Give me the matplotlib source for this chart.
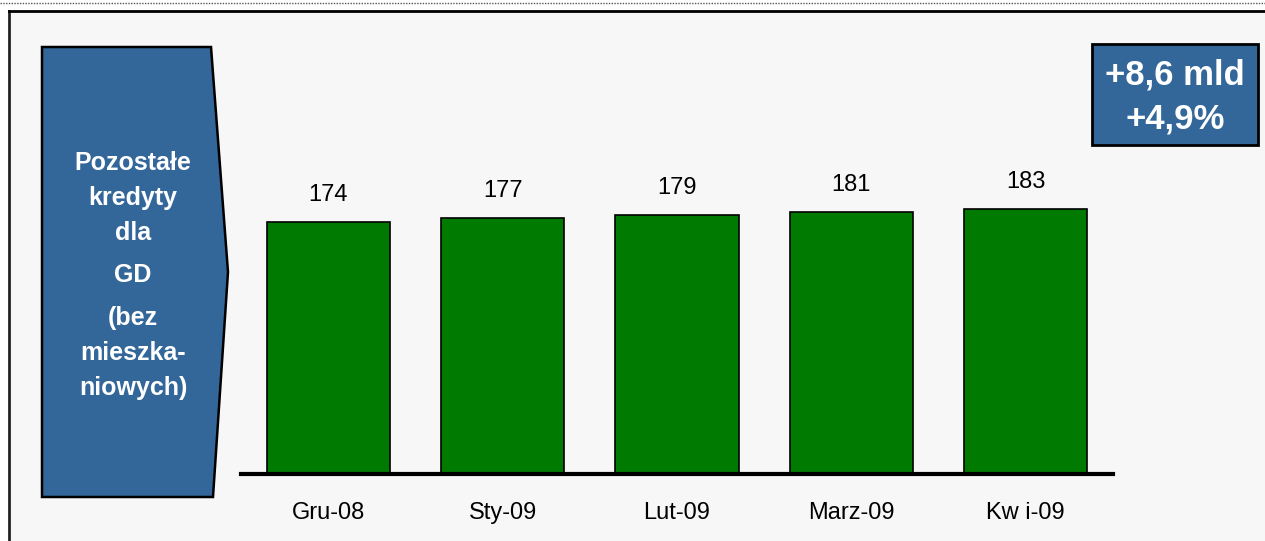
import matplotlib.pyplot as plt
from matplotlib.patches import Polygon, Rectangle
from matplotlib.lines import Line2D

plt.rcParams['font.family'] = ['Liberation Sans', 'DejaVu Sans']

months = ['Gru-08', 'Sty-09', 'Lut-09', 'Marz-09', 'Kw i-09']
values = [174, 177, 179, 181, 183]
side_lines = ['Pozostałe', 'kredyty', 'dla', 'GD', '(bez', 'mieszka-', 'niowych)']
change_lines = ['+8,6 mld', '+4,9%']

W, H = 1265, 541
fig = plt.figure(figsize=(W / 100, H / 100), dpi=100)
fig.patch.set_facecolor('white')


def fx(x):
    return x / W


def fy(y):
    return 1 - y / H


# panel background and frame
fig.add_artist(Rectangle((fx(9), 0), 1 - fx(9), fy(11), transform=fig.transFigure,
                         facecolor='#f7f7f7', edgecolor='none', zorder=0))
fig.add_artist(Line2D([fx(9), fx(9)], [0, fy(11)], color='#222222', lw=2))
fig.add_artist(Line2D([fx(9), 1], [fy(11), fy(11)], color='black', lw=2))
fig.add_artist(Line2D([0, 1], [fy(3), fy(3)], color='#555555', lw=1, ls=(0, (1, 1))))

# left arrow-shaped label
arrow = Polygon([(fx(42), fy(47)), (fx(211), fy(47)), (fx(228), fy(272)),
                 (fx(213), fy(497)), (fx(42), fy(497))], closed=True,
                transform=fig.transFigure, facecolor='#336699',
                edgecolor='black', lw=1.8, zorder=2)
fig.add_artist(arrow)
side_baselines = [170, 205, 240, 282, 325, 360, 395]
for line, yb in zip(side_lines, side_baselines):
    fig.text(fx(133), fy(yb), line, ha='center', va='baseline', color='white',
             fontsize=18, fontweight='bold', zorder=3)

# change box
fig.add_artist(Rectangle((fx(1092), fy(145)), fx(166), fy(44) - fy(145),
                         transform=fig.transFigure, facecolor='#336699',
                         edgecolor='black', lw=2, zorder=2))
for line, yb in zip(change_lines, [85, 128]):
    fig.text(fx(1175), fy(yb), line, ha='center', va='baseline', color='white',
             fontsize=25, fontweight='bold', zorder=3)

# bar chart
ax = fig.add_axes([fx(241), fy(474), fx(1113) - fx(241), fy(11) - fy(474)])
ax.set_facecolor('none')
x = range(len(values))
ax.bar(x, values, width=0.707, color='#007a00', edgecolor='black', lw=1.2, zorder=2)
for i, v in zip(x, values):
    ax.annotate(str(v), (i, v), xytext=(0, 15), textcoords='offset points',
                ha='center', va='baseline', fontsize=17)
ax.set_xlim(-0.5, 4.5)
ax.set_ylim(0, 320)
ax.set_xticks(list(x))
ax.set_xticklabels(months, fontsize=17)
ax.tick_params(axis='x', length=0, pad=20)
ax.set_yticks([])
for s in ['top', 'right', 'left']:
    ax.spines[s].set_visible(False)
ax.spines['bottom'].set_linewidth(3)
ax.spines['bottom'].set_zorder(3)

fig.savefig('out.png', dpi=100)
